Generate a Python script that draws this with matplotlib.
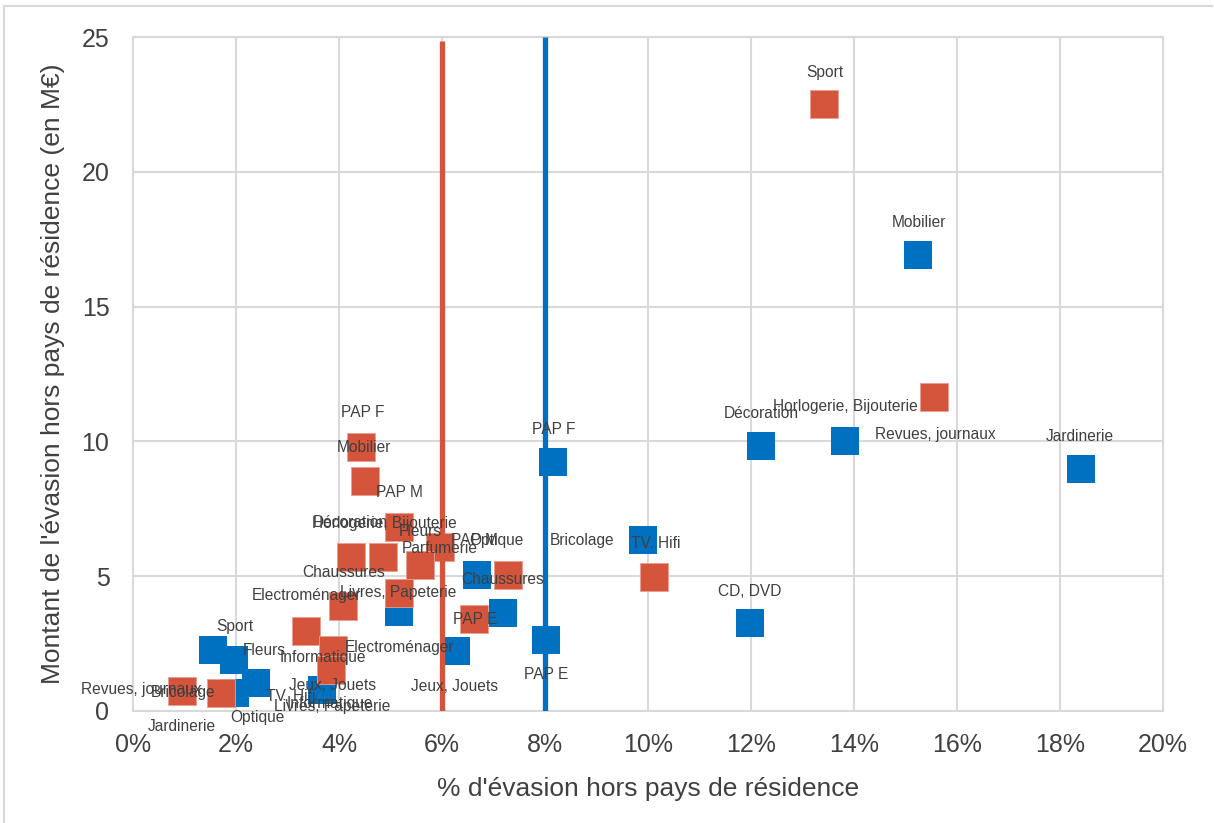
import matplotlib
matplotlib.use("Agg")
import matplotlib.pyplot as plt
from matplotlib.ticker import PercentFormatter
from matplotlib.lines import Line2D

plt.rcParams['font.family'] = ['Liberation Sans', 'DejaVu Sans']

########################
# Data (x in %, y in M€)
########################
orange_x = [13.42, 15.55, 10.12, 4.43, 4.50, 5.17, 4.23, 4.85, 5.96, 5.57,
            5.17, 4.08, 3.36, 3.88, 3.84, 7.28, 6.62, 0.95, 1.71]
orange_y = [22.5, 11.65, 4.97, 9.79, 8.53, 6.82, 5.71, 5.71, 6.08, 5.42,
            4.38, 3.89, 2.97, 2.26, 1.52, 5.04, 3.41, 0.74, 0.67]

blue_x = [15.24, 12.19, 13.83, 18.41, 9.90, 11.98, 8.16, 8.02, 6.68, 7.19,
          6.27, 5.17, 1.55, 1.96, 2.39, 1.98, 3.67]
blue_y = [16.91, 9.83, 10.01, 8.96, 6.36, 3.25, 9.24, 2.63, 5.04, 3.62,
          2.21, 3.67, 2.26, 1.89, 1.04, 0.67, 0.78]

# average rates (vertical reference lines)
orange_avg = 6.0
blue_avg = 8.0

# data labels as placed on the chart
label_texts = ["Sport", "Mobilier", "Horlogerie, Bijouterie", "Décoration",
               "Revues, journaux", "Jardinerie", "PAP F", "TV, Hifi", "CD, DVD",
               "PAP E", "Jeux, Jouets", "Chaussures", "Electroménager", "PAP E",
               "PAP M", "PAP F", "Mobilier", "PAP M", "Optique", "Bricolage",
               "Fleurs", "Horlogerie, Bijouterie", "Décoration", "Parfumerie",
               "Chaussures", "Livres, Papeterie", "Electroménager", "Informatique",
               "Fleurs", "Sport", "Revues, journaux", "Bricolage", "Optique",
               "Jardinerie", "TV, Hifi", "Jeux, Jouets", "Informatique",
               "Livres, Papeterie"]
label_pos = [(13.44, 23.70), (15.26, 18.13), (13.83, 11.28), (12.19, 11.05),
             (15.57, 10.27), (18.39, 10.20), (8.16, 10.46), (10.14, 6.23),
             (11.98, 4.45), (8.02, 1.34), (6.25, 0.89), (7.18, 4.86),
             (5.18, 2.34), (6.64, 3.38), (5.17, 8.09), (4.45, 11.09),
             (4.49, 9.76), (6.62, 6.31), (7.05, 6.31), (8.72, 6.31),
             (5.57, 6.64), (4.87, 6.94), (4.21, 7.01), (5.96, 6.01),
             (4.08, 5.12), (5.15, 4.38), (3.36, 4.27), (3.69, 2.00),
             (2.54, 2.23), (1.98, 3.12), (0.17, 0.78), (0.97, 0.67),
             (2.41, -0.26), (0.95, -0.59), (3.07, 0.52), (3.88, 0.93),
             (3.83, 0.26), (3.86, 0.15)]

ORANGE = '#D4553B'
BLUE = '#0070C0'
TXT = '#404040'
GRID = '#D9D9D9'

fig = plt.figure(figsize=(12.14, 8.23), dpi=100)
ax = fig.add_axes([0.1096, 0.1361, 0.8485, 0.8189])

# outer frame (top + left only visible)
fig.add_artist(Line2D([4/1214, 1212/1214], [1 - 6/823, 1 - 6/823], color=GRID, lw=1.5))
fig.add_artist(Line2D([4/1214, 4/1214], [0, 1 - 6/823], color=GRID, lw=1.5))

# markers
ax.scatter(blue_x, blue_y, marker='s', s=420, color=BLUE, linewidths=0, zorder=3)
ax.scatter(orange_x, orange_y, marker='s', s=420, color=ORANGE,
           edgecolors='#E8A090', linewidths=0.6, zorder=4)

# average lines
ax.plot([orange_avg, orange_avg], [0, 24.85], color=ORANGE, lw=3.8,
        solid_capstyle='butt', zorder=5)
ax.plot([blue_avg, blue_avg], [0, 25], color=BLUE, lw=3.8,
        solid_capstyle='butt', zorder=5)

# labels
for t, (lx, ly) in zip(label_texts, label_pos):
    ax.text(lx, ly, t, ha='center', va='center', fontsize=11.2, color=TXT,
            zorder=6, clip_on=False)

ax.set_xlim(0, 20)
ax.set_ylim(0, 25)
ax.set_xticks(range(0, 21, 2))
ax.set_yticks(range(0, 26, 5))
ax.xaxis.set_major_formatter(PercentFormatter(xmax=100, decimals=0))
ax.tick_params(axis='both', length=0, labelsize=18, labelcolor=TXT)
ax.tick_params(axis='x', pad=16)
ax.tick_params(axis='y', pad=17)

ax.grid(True, color=GRID, lw=1.5, zorder=0)
ax.set_axisbelow(True)
for sp in ax.spines.values():
    sp.set_color(GRID)
    sp.set_linewidth(1.5)

ax.set_xlabel("% d'évasion hors pays de résidence", fontsize=19, color=TXT, labelpad=14)
ax.set_ylabel("Montant de l'évasion hors pays de résidence (en M€)", fontsize=19,
              color=TXT, labelpad=12)

fig.savefig('out.png', dpi=100)
